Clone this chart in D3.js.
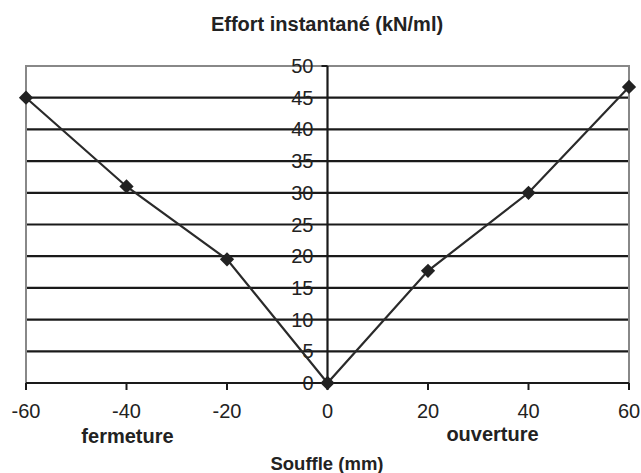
<!DOCTYPE html>
<html><head><meta charset="utf-8">
<script src="https://cdn.jsdelivr.net/npm/d3@7"></script>
<style>body{margin:0;background:#fff}svg{display:block}text{font-family:"Liberation Sans",Arial,sans-serif;fill:#222}</style>
</head><body><svg id="c" width="641" height="473"></svg>
<script>
const xValues = [-60, -40, -20, 0, 20, 40, 60];
const yValues = [45, 31, 19.5, 0, 17.7, 30, 46.7];
const xTicks = [-60, -40, -20, 0, 20, 40, 60];
const yTicks = [0, 5, 10, 15, 20, 25, 30, 35, 40, 45, 50];
const title = "Effort instantané (kN/ml)";
const xTitle = "Souffle (mm)";
const leftNote = "fermeture", rightNote = "ouverture";

const svg = d3.select("#c");
const x = d3.scaleLinear().domain([-60, 60]).range([26, 629]);
const y = d3.scaleLinear().domain([0, 50]).range([383, 66]);

// gridlines
svg.append("g").selectAll("line").data(yTicks.filter(d => d > 0 && d < 50)).join("line")
  .attr("x1", x(-60)).attr("x2", x(60)).attr("y1", d => y(d)).attr("y2", d => y(d))
  .attr("stroke", "#1a1a1a").attr("stroke-width", 2.2);
// border
svg.append("rect").attr("x", x(-60)).attr("y", y(50)).attr("width", x(60) - x(-60)).attr("height", y(0) - y(50))
  .attr("fill", "none").attr("stroke", "#888").attr("stroke-width", 2);

// y tick labels
svg.append("g").selectAll("text").data(yTicks).join("text")
  .attr("x", x(0) - 14).attr("y", d => y(d) + 7).attr("text-anchor", "end")
  .attr("font-size", 20).text(d => d);

// y axis
svg.append("line").attr("x1", x(0)).attr("x2", x(0)).attr("y1", y(50)).attr("y2", y(0) + 6)
  .attr("stroke", "#1a1a1a").attr("stroke-width", 2.2);
svg.append("line").attr("x1", x(0) - 6).attr("x2", x(0)).attr("y1", y(50)).attr("y2", y(50))
  .attr("stroke", "#1a1a1a").attr("stroke-width", 2);

// x axis
svg.append("line").attr("x1", x(-60)).attr("x2", x(60)).attr("y1", y(0)).attr("y2", y(0))
  .attr("stroke", "#1a1a1a").attr("stroke-width", 2.2);
svg.append("g").selectAll("line").data(xTicks).join("line")
  .attr("x1", d => x(d)).attr("x2", d => x(d)).attr("y1", y(0)).attr("y2", y(0) + 7)
  .attr("stroke", "#1a1a1a").attr("stroke-width", 2);
svg.append("g").selectAll("text").data(xTicks).join("text")
  .attr("x", d => x(d)).attr("y", 418).attr("text-anchor", "middle")
  .attr("font-size", 20).text(d => d);

// series
const pts = xValues.map((v, i) => [v, yValues[i]]);
svg.append("path").datum(pts)
  .attr("d", d3.line().x(d => x(d[0])).y(d => y(d[1])))
  .attr("fill", "none").attr("stroke", "#2a2a2a").attr("stroke-width", 2.2);
svg.append("g").selectAll("path").data(pts).join("path")
  .attr("transform", d => `translate(${x(d[0])},${y(d[1])})`)
  .attr("d", d3.symbol().type(d3.symbolDiamond2).size(130))
  .attr("fill", "#222");

// texts
svg.append("text").attr("x", 327).attr("y", 31).attr("text-anchor", "middle")
  .attr("font-size", 20).attr("font-weight", "bold").text(title);
svg.append("text").attr("x", 127.5).attr("y", 443).attr("text-anchor", "middle")
  .attr("font-size", 20).attr("font-weight", "bold").text(leftNote);
svg.append("text").attr("x", 492.5).attr("y", 441).attr("text-anchor", "middle")
  .attr("font-size", 20).attr("font-weight", "bold").text(rightNote);
svg.append("text").attr("x", 327).attr("y", 470).attr("text-anchor", "middle")
  .attr("font-size", 18.5).attr("font-weight", "bold").text(xTitle);
</script></body></html>
